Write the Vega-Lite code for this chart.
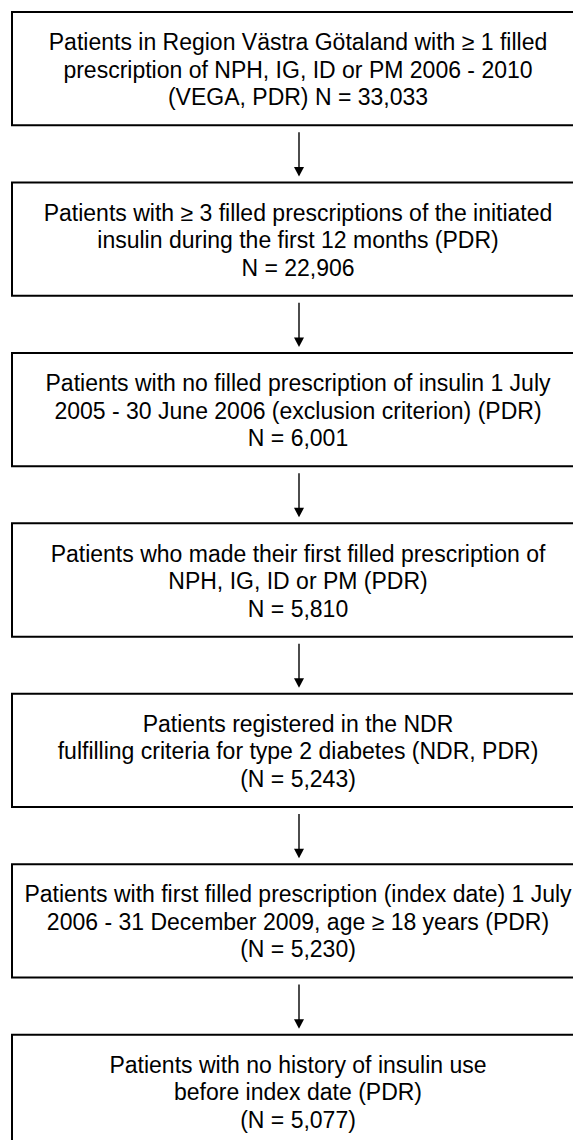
{
  "$schema": "https://vega.github.io/schema/vega-lite/v6.json",
  "width": 573,
  "height": 1140,
  "autosize": {"type": "fit", "contains": "padding"},
  "padding": 0,
  "background": "white",
  "config": {"view": {"stroke": null}},
  "datasets": {
    "boxes": [
      {"step": 1, "label": "Patients in Region Västra Götaland with ≥ 1 filled\nprescription of NPH, IG, ID or PM 2006 - 2010\n(VEGA, PDR) N = 33,033"},
      {"step": 2, "label": "Patients with ≥ 3 filled prescriptions of the initiated\ninsulin during the first 12 months (PDR)\nN = 22,906"},
      {"step": 3, "label": "Patients with no filled prescription of insulin 1 July\n2005 - 30 June 2006 (exclusion criterion) (PDR)\nN = 6,001"},
      {"step": 4, "label": "Patients who made their first filled prescription of\nNPH, IG, ID or PM (PDR)\nN = 5,810"},
      {"step": 5, "label": "Patients registered in the NDR\nfulfilling criteria for type 2 diabetes (NDR, PDR)\n(N = 5,243)"},
      {"step": 6, "label": "Patients with first filled prescription (index date) 1 July\n2006 - 31 December 2009, age ≥ 18 years (PDR)\n(N = 5,230)"},
      {"step": 7, "label": "Patients with no history of insulin use\nbefore index date (PDR)\n(N = 5,077)"}
    ],
    "arrows": [
      {"from": 1, "to": 2},
      {"from": 2, "to": 3},
      {"from": 3, "to": 4},
      {"from": 4, "to": 5},
      {"from": 5, "to": 6},
      {"from": 6, "to": 7}
    ]
  },
  "layer": [
    {
      "data": {"name": "boxes"},
      "mark": {"type": "rect", "fill": "white", "stroke": "black", "strokeWidth": 2},
      "encoding": {
        "x": {"datum": 0, "type": "quantitative", "scale": {"domain": [0, 1], "range": [12, 584], "nice": false, "zero": false}, "axis": null},
        "x2": {"datum": 1},
        "y": {"field": "step", "type": "ordinal", "scale": {"domain": [1, 2, 3, 4, 5, 6, 7], "range": [12, 1148], "paddingInner": 0.3353, "paddingOuter": 0}, "axis": null}
      }
    },
    {
      "data": {"name": "boxes"},
      "mark": {"type": "text", "font": "Liberation Sans", "fontSize": 23, "lineHeight": 27.5, "lineBreak": "\n", "align": "center", "baseline": "middle", "dy": -25.5, "color": "black"},
      "encoding": {
        "x": {"datum": 0.5, "type": "quantitative"},
        "y": {"field": "step", "type": "ordinal"},
        "text": {"field": "label", "type": "nominal"}
      }
    },
    {
      "data": {"name": "arrows"},
      "mark": {"type": "rule", "color": "black", "strokeWidth": 1.4, "yOffset": 7, "y2Offset": -9, "xOffset": 1},
      "encoding": {
        "x": {"datum": 0.5, "type": "quantitative"},
        "y": {"field": "from", "type": "ordinal", "bandPosition": 1},
        "y2": {"field": "to", "bandPosition": 0}
      }
    },
    {
      "data": {"name": "arrows"},
      "mark": {"type": "point", "shape": "M-1,-0.95L1,-0.95L0,0.95Z", "size": 100, "filled": true, "color": "black", "opacity": 1, "strokeWidth": 0, "yOffset": -10.75, "xOffset": 1},
      "encoding": {
        "x": {"datum": 0.5, "type": "quantitative"},
        "y": {"field": "to", "type": "ordinal", "bandPosition": 0}
      }
    }
  ]
}
